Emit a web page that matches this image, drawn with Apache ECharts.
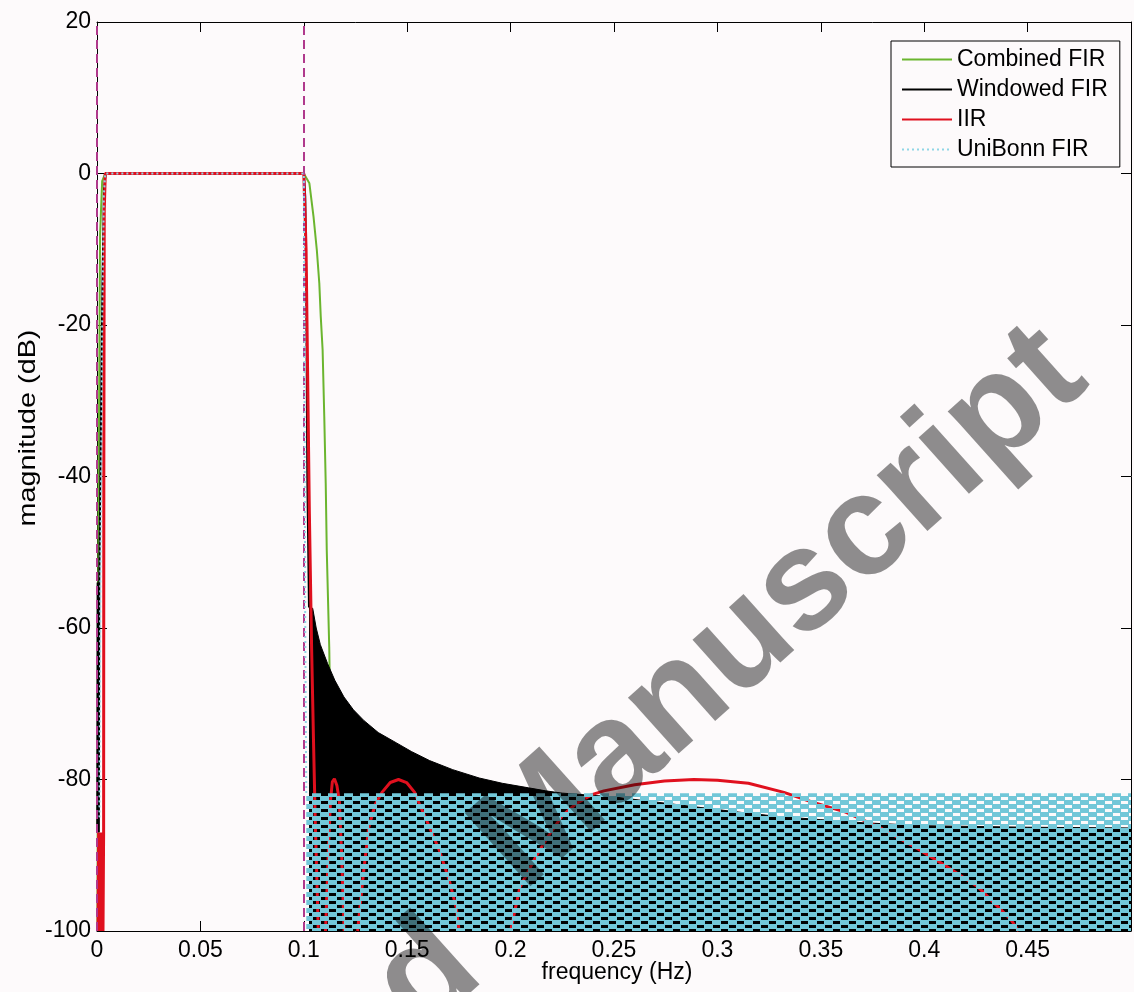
<!DOCTYPE html>
<html><head><meta charset="utf-8">
<script src="https://cdn.jsdelivr.net/npm/echarts@6/dist/echarts.min.js"></script>
<style>html,body{margin:0;padding:0;background:#fdfafb;} #c{width:1134px;height:992px;}</style>
</head><body><div id="c"></div>
<script>
// ---------- data ----------
const xTickLabels = ['0','0.05','0.1','0.15','0.2','0.25','0.3','0.35','0.4','0.45',''];
const yTickLabels = ['-100','-80','-60','-40','-20','0','20'];
const legendNames = ['Combined FIR','Windowed FIR','IIR','UniBonn FIR'];
const cutoffFreqs = [0.004, 0.1];

const combinedFir = [
  [0.0002,-100],[0.0008,-40],[0.0015,-8],[0.0025,-1],[0.004,0],
  [0.1,0],[0.1027,-1.3],[0.1047,-5.7],[0.1063,-10.1],[0.1075,-14.5],[0.1082,-18.9],
  [0.1091,-23.3],[0.1099,-32.1],[0.1106,-40.9],[0.1111,-49.7],[0.1123,-62.5],[0.113,-75],[0.1135,-100]
];
const windowedFir = [
  [0.0001,-87],[0.0003,-54],[0.0005,-87],[0.0007,-54],[0.0009,-87],[0.0011,-54],
  [0.0018,-35],[0.0026,-15],[0.0034,-2],[0.0042,0],
  [0.1,0],[0.1007,-3],[0.1012,-15],[0.1017,-40],[0.1025,-57.3]
];
const windowedFirEnvelope = [
  [0.1025,-57.3],[0.1043,-57.4],[0.106,-60.0],[0.108,-62.2],[0.1115,-64.7],[0.115,-66.9],
  [0.1194,-69.1],[0.124,-70.8],[0.129,-72.2],[0.136,-73.8],[0.145,-75.2],[0.152,-76.3],
  [0.1608,-77.5],[0.172,-78.7],[0.1848,-79.8],[0.196,-80.5],[0.2087,-81.1],[0.217,-81.5],
  [0.225,-81.8],[0.25,-82.3],[0.28,-83.3],[0.31,-84.3],[0.33,-84.9],[0.35,-85.3],
  [0.37,-85.7],[0.4,-86.1],[0.45,-86.3],[0.5,-86.4]
];
const iir = [
  [0.0005,-100],[0.0008,-87],[0.0011,-100],[0.0014,-87],[0.0017,-100],[0.002,-87],
  [0.0023,-100],[0.0026,-87],[0.0029,-100],[0.0032,-87],[0.0033,-40],[0.0035,-5],[0.004,0],
  [0.1,0],[0.1011,-10],[0.1027,-45],[0.1038,-63],[0.1047,-75],[0.1055,-85],[0.107,-100],
  '-',
  [0.1105,-100],[0.1118,-90],[0.1129,-82.8],[0.1138,-80.3],[0.1148,-79.9],[0.116,-80.8],
  [0.1172,-82.8],[0.1183,-90],[0.1195,-100],
  '-',
  [0.126,-100],[0.129,-92],[0.1314,-86.3],[0.1345,-83.3],[0.1378,-81.7],[0.1418,-80.4],
  [0.1458,-80.0],[0.1497,-80.4],[0.1536,-81.7],[0.156,-83.3],[0.1608,-86.3],[0.1656,-89.4],
  [0.1703,-93.3],[0.1737,-96.9],[0.1751,-100],
  '-',
  [0.2,-100],[0.2044,-94.3],[0.212,-90.3],[0.2182,-87.5],[0.2249,-84.8],[0.2317,-83.2],
  [0.2393,-82],[0.2451,-81.5],[0.26,-80.7],[0.2744,-80.2],[0.2886,-80.0],[0.3,-80.1],
  [0.315,-80.5],[0.3322,-81.7],[0.3461,-83.0],[0.362,-84.3],[0.3796,-86.5],[0.3954,-88.9],
  [0.4098,-91.3],[0.4261,-94.2],[0.4419,-98.5],[0.4457,-100]
];
const uniBonnFir = [
  [0.0012,-85],[0.0016,-54],[0.0025,-20],[0.0033,-3],[0.004,0],
  [0.1,0],[0.1003,-20],[0.1007,-60],[0.1012,-81.8]
];
const uniBonnEnvelope = [
  [0.1012,-81.8],[0.15,-81.8],[0.2,-81.8],[0.25,-81.8],[0.3,-81.8],[0.35,-81.8],[0.4,-81.8],[0.45,-81.8],[0.5,-81.8]
];

// ---------- styling ----------
const FONT = '"Liberation Sans", Arial, Helvetica, sans-serif';
const CYAN = '#72c7d8';
const NOICON = 'rgba(0,0,0,0)';
const WM = {fill:'rgba(0,0,0,0.44)', font:'bold 143px '+FONT, textAlign:'right', textVerticalAlign:'bottom'};
const pat = document.createElement('canvas');
pat.width = 16; pat.height = 8;
const pctx = pat.getContext('2d');
pctx.fillStyle = CYAN; pctx.fillRect(0,0,16,8);
pctx.clearRect(1,1,7,3);
pctx.clearRect(9,5,7,3);

const chart = echarts.init(document.getElementById('c'), null, {renderer:'canvas'});

function xAxisDef(pos, showLabel){
  return {
    type:'value', min:0, max:0.5, interval:0.05, position:pos, gridIndex:0,
    axisLine:{show:true, onZero:false, lineStyle:{color:'#000', width:1}},
    axisTick:{show:true, inside:true, length:10, lineStyle:{color:'#000', width:1}},
    axisLabel:{show:showLabel, margin:8, fontSize:23, color:'#000', fontFamily:FONT,
      showMinLabel:true, showMaxLabel:true,
      formatter: v => xTickLabels[Math.round(v/0.05)] ?? ''},
    splitLine:{show:false}
  };
}
function yAxisDef(pos, showLabel){
  return {
    type:'value', min:-100, max:20, interval:20, position:pos, gridIndex:0,
    axisLine:{show:true, onZero:false, lineStyle:{color:'#000', width:1}},
    axisTick:{show:true, inside:true, length:10, lineStyle:{color:'#000', width:1}},
    axisLabel:{show:showLabel, margin:6, fontSize:23, color:'#000', fontFamily:FONT,
      showMinLabel:true, showMaxLabel:true,
      formatter: v => yTickLabels[Math.round((v+100)/20)] ?? ''},
    splitLine:{show:false}
  };
}

const option = {
  animation:false,
  backgroundColor:'#fdfafb',
  grid:{left:97, top:22, width:1044, height:909, containLabel:false},
  xAxis:[xAxisDef('bottom', true), xAxisDef('top', false)],
  yAxis:[yAxisDef('left', true), yAxisDef('right', false)],
  legend:{
    data:legendNames, orient:'vertical', left:891, top:41,
    itemWidth:50, itemHeight:14, itemGap:7, padding:[7,12,6,10],
    backgroundColor:'#fdfafb', borderColor:'#000', borderWidth:1, borderRadius:0,
    itemStyle:{color:NOICON, borderColor:NOICON, borderWidth:0},
    textStyle:{fontSize:23, color:'#000', fontFamily:FONT, lineHeight:23},
    selectedMode:false
  },
  series:[
    {name:'Combined FIR', type:'line', data:combinedFir, symbol:'none', z:2,
      lineStyle:{color:'#6bb52f', width:2}, itemStyle:{color:NOICON}},
    {name:'Windowed FIR stopband', type:'line', data:windowedFirEnvelope, symbol:'none', z:3,
      lineStyle:{color:'#000', width:1}, itemStyle:{color:'#000'},
      areaStyle:{origin:'start', color:'#000', opacity:1}},
    {name:'Windowed FIR', type:'line', data:windowedFir, symbol:'none', z:3,
      lineStyle:{color:'#000', width:2}, itemStyle:{color:NOICON}},
    {name:'IIR', type:'line', data:iir, symbol:'none', z:4, connectNulls:false,
      lineStyle:{color:'#e0101e', width:3}, itemStyle:{color:NOICON}},
    {name:'UniBonn FIR stopband', type:'line', data:uniBonnEnvelope, symbol:'none', z:5,
      lineStyle:{width:0}, itemStyle:{color:CYAN},
      areaStyle:{origin:'start', color:{image:pat, repeat:'repeat'}, opacity:1}},
    {name:'UniBonn FIR', type:'line', data:uniBonnFir, symbol:'none', z:6,
      lineStyle:{color:'#8fd6e6', width:2, type:[2,3]}, itemStyle:{color:NOICON},
      markLine:{silent:true, symbol:['none','none'], label:{show:false},
        lineStyle:{color:'#b0398c', width:2, type:[9,5]},
        data: cutoffFreqs.map(f => ({xAxis:f}))}}
  ],
  graphic:[
    {type:'text', x:617, y:961, z:10,
      style:{text:'frequency (Hz)', fill:'#000', font:'23px '+FONT, textAlign:'center', textVerticalAlign:'top'}},
    {type:'text', x:16, y:428, rotation:Math.PI/2, scaleX:1.2, z:10,
      style:{text:'magnitude (dB)', fill:'#000', font:'24px '+FONT, textAlign:'center', textVerticalAlign:'top'}},
    {type:'text', x:1113, y:408, rotation:0.73, z:100, silent:true,
      style:Object.assign({text:'Manuscript'}, WM)},
    {type:'text', x:508, y:1002, rotation:0.73, z:100, silent:true,
      style:Object.assign({text:'Accepted'}, WM)}
  ]
};
chart.setOption(option);
</script>
</body></html>
